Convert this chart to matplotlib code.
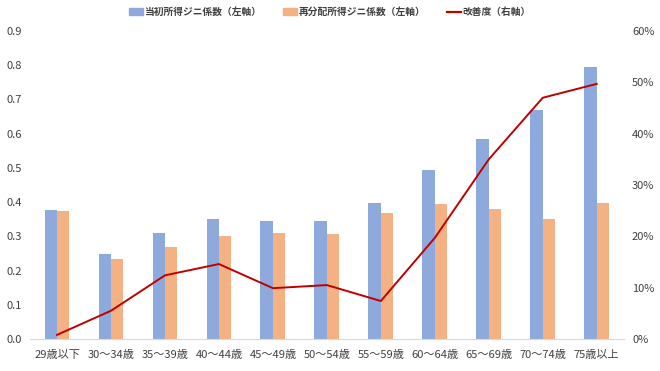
import matplotlib
matplotlib.use("Agg")
import matplotlib.pyplot as plt
import numpy as np
from matplotlib.patches import Patch
from matplotlib.lines import Line2D

plt.rcParams['font.family'] = ['Noto Sans CJK JP', 'DejaVu Sans']

categories = ["29歳以下", "30～34歳", "35～39歳", "40～44歳", "45～49歳", "50～54歳",
              "55～59歳", "60～64歳", "65～69歳", "70～74歳", "75歳以上"]
initial_gini = [0.378, 0.248, 0.309, 0.352, 0.345, 0.345, 0.397, 0.494, 0.585, 0.669, 0.796]
redist_gini = [0.375, 0.235, 0.270, 0.300, 0.310, 0.307, 0.367, 0.395, 0.380, 0.351, 0.396]
improvement = [0.8, 5.5, 12.4, 14.6, 9.9, 10.5, 7.4, 19.7, 35.0, 47.0, 49.7]
left_ticks = [0.0, 0.1, 0.2, 0.3, 0.4, 0.5, 0.6, 0.7, 0.8, 0.9]
right_ticks = [0, 10, 20, 30, 40, 50, 60]

c_blue = "#8EAADC"
c_orange = "#F4B183"
c_red = "#C00000"

fig = plt.figure(figsize=(6.6, 3.71), dpi=100)
ax = fig.add_axes([0.0455, 0.0863, 0.8995, 0.8301])
x = np.arange(len(categories))
w = 0.23
ax.bar(x - w/2, initial_gini, width=w, color=c_blue)
ax.bar(x + w/2, redist_gini, width=w, color=c_orange)
ax.set_xlim(-0.5, len(categories) - 0.5)
ax.set_ylim(0, 0.9)
ax.set_yticks(left_ticks)
ax.set_yticklabels([f"{t:.1f}" for t in left_ticks], fontsize=8, color="#404040")
ax.set_xticks(x)
ax.set_xticklabels(categories, fontsize=8, color="#404040")
ax.tick_params(axis="y", length=0, pad=6)
ax.tick_params(axis="x", length=0, pad=8)
for s in ["top", "right", "left"]:
    ax.spines[s].set_visible(False)
ax.spines["bottom"].set_color("#D9D9D9")

ax2 = ax.twinx()
ax2.plot(x, improvement, color=c_red, lw=1.4)
ax2.set_ylim(0, 60)
ax2.set_yticks(right_ticks)
ax2.set_yticklabels([f"{t}%" for t in right_ticks], fontsize=8, color="#404040")
ax2.tick_params(length=0, pad=6)
for s in ["top", "right", "left", "bottom"]:
    ax2.spines[s].set_visible(False)

handles = [Patch(color=c_blue), Patch(color=c_orange), Line2D([0], [0], color=c_red, lw=1.6)]
labels = ["当初所得ジニ係数（左軸）", "再分配所得ジニ係数（左軸）", "改善度（右軸）"]
fig.legend(handles, labels, loc="upper center", bbox_to_anchor=(0.5, 1.005), ncol=3,
           frameon=False, prop={"size": 7, "weight": "bold"}, labelcolor="#404040",
           handlelength=1.45, handleheight=0.6,
           columnspacing=2.2, handletextpad=0.15)

fig.savefig("out.png", dpi=100)
